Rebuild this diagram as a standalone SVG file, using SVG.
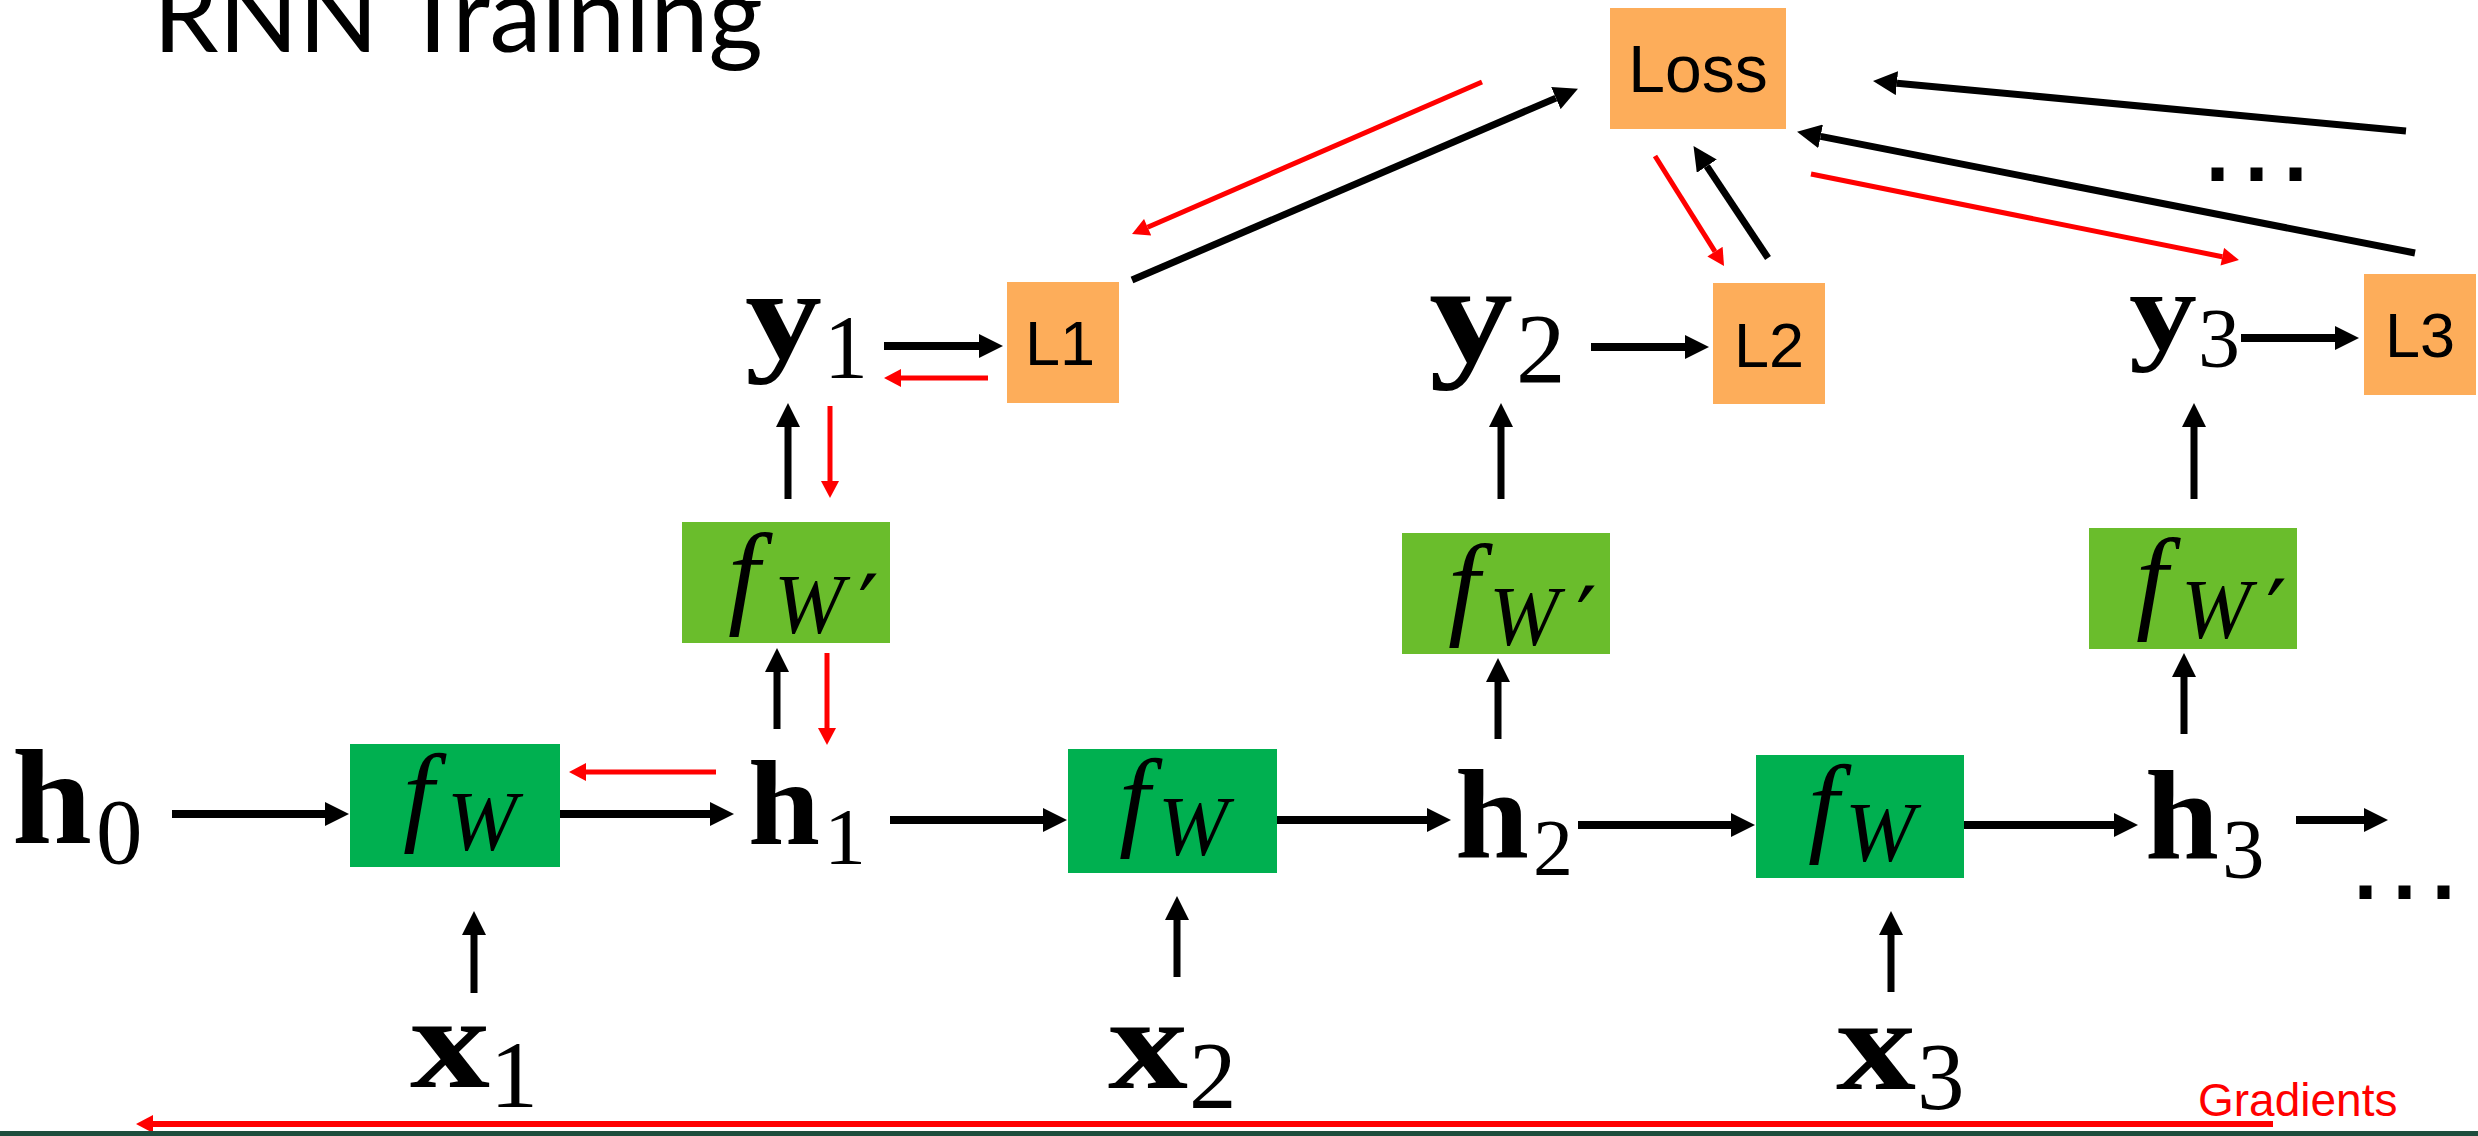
<svg xmlns="http://www.w3.org/2000/svg" width="2478" height="1136" viewBox="0 0 2478 1136">
<defs>
<style>
.title{font-family:Lato,"Liberation Sans",sans-serif;font-size:104px;fill:#000}
.lbl{font-family:"Liberation Sans",Arial,sans-serif;fill:#000;text-anchor:middle}
.mb{font-family:"Liberation Serif","Times New Roman",serif;font-weight:bold;fill:#000}
.mr{font-family:"Liberation Serif","Times New Roman",serif;fill:#000}
.mi{font-family:"Liberation Serif","Times New Roman",serif;font-style:italic;fill:#000}
.pr{font-family:"DejaVu Serif","Liberation Serif",serif;fill:#000}
.dots{font-family:"Liberation Sans",Arial,sans-serif;font-size:126px;letter-spacing:4px;fill:#000}
.orange{fill:#FDAD5A}
.gA{fill:#00B050}
.gB{fill:#6ABD2C}
.k{stroke:#000;stroke-width:8;fill:none;marker-end:url(#ak)}
.kv{stroke:#000;stroke-width:7;fill:none;marker-end:url(#ak)}
.r{stroke:#FF0000;stroke-width:5;fill:none;marker-end:url(#ar)}
</style>
<marker id="ak" markerUnits="userSpaceOnUse" markerWidth="24" markerHeight="24" refX="0" refY="11.5" orient="auto" viewBox="0 0 23 23">
<path d="M0,0 L23,11.5 L0,23 z" fill="#000"/>
</marker>
<marker id="ar" markerUnits="userSpaceOnUse" markerWidth="18" markerHeight="18" refX="0" refY="9" orient="auto" viewBox="0 0 17 18">
<path d="M0,0 L17,9 L0,18 z" fill="#FF0000"/>
</marker>
</defs>
<rect x="0" y="0" width="2478" height="1136" fill="#fff"/>
<text class="title" x="153" y="52" textLength="610" lengthAdjust="spacingAndGlyphs">RNN Training</text>

<g id="connectors">
<path class="k" d="M172,814 H325"/>
<path class="k" d="M560,814 H710"/>
<path class="k" d="M890,820 H1043"/>
<path class="k" d="M1277,820 H1427"/>
<path class="k" d="M1578,825 H1731"/>
<path class="k" d="M1964,825 H2114"/>
<path class="k" d="M2296,820 H2364"/>
<path class="k" d="M884,346 H979"/>
<path class="k" d="M1591,347 H1685"/>
<path class="k" d="M2241,338 H2335"/>
<path class="kv" d="M474,993 V935"/>
<path class="kv" d="M1177,977 V920"/>
<path class="kv" d="M1891,992 V935"/>
<path class="kv" d="M777,729 V672"/>
<path class="kv" d="M1498,739 V682"/>
<path class="kv" d="M2184,734 V677"/>
<path class="kv" d="M788,499 V427"/>
<path class="kv" d="M1501,499 V427"/>
<path class="kv" d="M2194,499 V427"/>
<path class="kv" d="M1132,280 L1555.9,98.1"/>
<path class="kv" d="M1768,258 L1706.8,166.1"/>
<path class="kv" d="M2415,253 L1820.6,136.4"/>
<path class="kv" d="M2406,131 L1896.9,83.2"/>
<path class="r" d="M1482,82 L1147.6,227.2"/>
<path class="r" d="M988,378 H901"/>
<path class="r" d="M830,406 V481"/>
<path class="r" d="M827,653 V728"/>
<path class="r" d="M716,772 H586"/>
<path class="r" d="M1655,156 L1715,251.6"/>
<path class="r" d="M1811,174 L2222.3,256.7"/>
<path class="r" style="stroke-width:6" d="M2273,1124 H153"/>
</g>

<g id="loss"><rect class="orange" x="1610" y="8" width="176" height="121"/><text class="lbl" x="1698" y="92" font-size="66">Loss</text></g>
<g id="L1"><rect class="orange" x="1007" y="282" width="112" height="121"/><text class="lbl" x="1060" y="365" font-size="63">L1</text></g>
<g id="L2"><rect class="orange" x="1713" y="283" width="112" height="121"/><text class="lbl" x="1769" y="367" font-size="63">L2</text></g>
<g id="L3"><rect class="orange" x="2364" y="274" width="112" height="121"/><text class="lbl" x="2420" y="357" font-size="63">L3</text></g>

<g id="y1"><text class="mb" x="745" y="358" font-size="128" textLength="77" lengthAdjust="spacingAndGlyphs">y</text><text class="mr" x="824" y="378" font-size="90" textLength="44" lengthAdjust="spacingAndGlyphs">1</text></g>
<g id="y2"><text class="mb" x="1429" y="361" font-size="140" textLength="84" lengthAdjust="spacingAndGlyphs">y</text><text class="mr" x="1516" y="382" font-size="99">2</text></g>
<g id="y3"><text class="mb" x="2129" y="349" font-size="113" textLength="68" lengthAdjust="spacingAndGlyphs">y</text><text class="mr" x="2198" y="367" font-size="84">3</text></g>

<g id="fWp1"><rect class="gB" x="682" y="522" width="208" height="121"/><text class="mi" x="728" y="613" font-size="114">f</text><text class="mi" x="774" y="633" font-size="84">W</text><text class="pr" x="858" y="640" font-size="92">′</text></g>
<g id="fWp2"><rect class="gB" x="1402" y="533" width="208" height="121"/><text class="mi" x="1448" y="624" font-size="114">f</text><text class="mi" x="1489" y="645" font-size="84">W</text><text class="pr" x="1576" y="652" font-size="92">′</text></g>
<g id="fWp3"><rect class="gB" x="2089" y="528" width="208" height="121"/><text class="mi" x="2136" y="618" font-size="114">f</text><text class="mi" x="2181" y="638" font-size="84">W</text><text class="pr" x="2266" y="645" font-size="92">′</text></g>

<g id="h0"><text class="mb" x="12" y="843" font-size="135" textLength="80" lengthAdjust="spacingAndGlyphs">h</text><text class="mr" x="96" y="863" font-size="93">0</text></g>
<g id="h1"><text class="mb" x="748" y="844" font-size="120" textLength="72" lengthAdjust="spacingAndGlyphs">h</text><text class="mr" x="824" y="864" font-size="81" textLength="42" lengthAdjust="spacingAndGlyphs">1</text></g>
<g id="h2"><text class="mb" x="1455" y="857" font-size="126" textLength="74" lengthAdjust="spacingAndGlyphs">h</text><text class="mr" x="1533" y="875" font-size="80">2</text></g>
<g id="h3"><text class="mb" x="2145" y="858" font-size="126" textLength="74" lengthAdjust="spacingAndGlyphs">h</text><text class="mr" x="2222" y="878" font-size="85">3</text></g>

<g id="fW1"><rect class="gA" x="350" y="744" width="210" height="123"/><text class="mi" x="403" y="831" font-size="111">f</text><text class="mi" x="447" y="850" font-size="84">W</text></g>
<g id="fW2"><rect class="gA" x="1068" y="749" width="209" height="124"/><text class="mi" x="1119" y="836" font-size="111">f</text><text class="mi" x="1158" y="855" font-size="84">W</text></g>
<g id="fW3"><rect class="gA" x="1756" y="755" width="208" height="123"/><text class="mi" x="1808" y="842" font-size="111">f</text><text class="mi" x="1845" y="861" font-size="84">W</text></g>

<g id="x1"><text class="mb" x="410" y="1087" font-size="131" textLength="80" lengthAdjust="spacingAndGlyphs">x</text><text class="mr" x="490" y="1107" font-size="95" textLength="48" lengthAdjust="spacingAndGlyphs">1</text></g>
<g id="x2"><text class="mb" x="1108" y="1088" font-size="131" textLength="80" lengthAdjust="spacingAndGlyphs">x</text><text class="mr" x="1189" y="1108" font-size="95">2</text></g>
<g id="x3"><text class="mb" x="1836" y="1089" font-size="131" textLength="80" lengthAdjust="spacingAndGlyphs">x</text><text class="mr" x="1917" y="1109" font-size="95">3</text></g>

<g id="ellipsis-top"><text class="dots" x="2200" y="181">...</text></g>
<g id="ellipsis-bottom"><text class="dots" x="2348" y="899">...</text></g>

<g id="gradients"><text x="2198" y="1116" font-family="Liberation Sans, Arial, sans-serif" font-size="46" fill="#FF0000">Gradients</text></g>
<rect x="0" y="1131" width="2478" height="5" fill="#1E4D3D"/>
</svg>
